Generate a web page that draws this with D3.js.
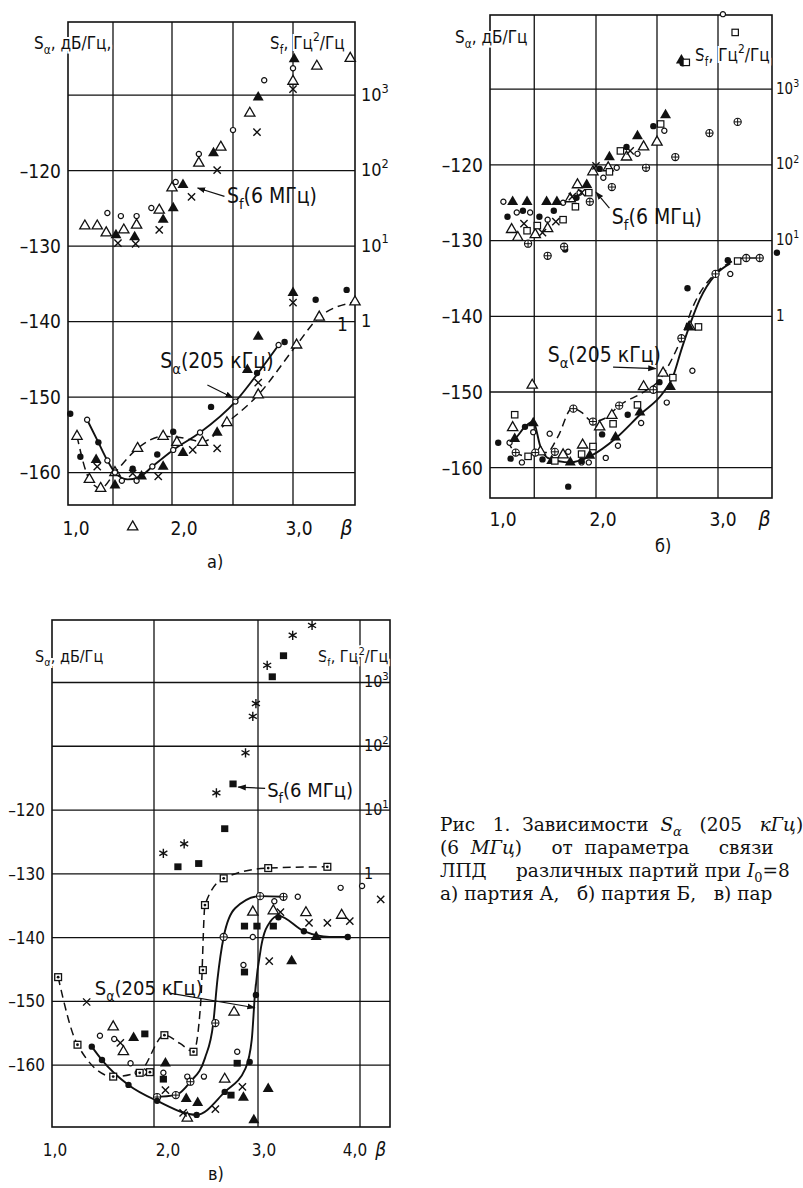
<!DOCTYPE html>
<html>
<head>
<meta charset="utf-8">
<script src="https://cdn.jsdelivr.net/npm/d3@7"></script>
<style>
	body { margin: 0; background: #fff; }
	svg { display: block; }
	.sans { font-family: "DejaVu Sans Condensed", "Liberation Sans Narrow", "DejaVu Sans", sans-serif; font-stretch: condensed; fill: #111; }
	.serif { font-family: "DejaVu Serif", "Liberation Serif", serif; fill: #111; white-space: pre; }
</style>
</head>
<body>
<svg id="fig" width="803" height="1188"></svg>
<script>
// ---- tick labels ----
const dbTicks = [-120, -130, -140, -150, -160]
const sfTicks = [1, 10, 100, 1000]
const betaTicksAB = [1, 2, 3]
const betaTicksC = [1, 2, 3, 4]

// ---- panel a: Sf (beta, Гц²/Гц) ----
const aSfTriOpen = [[1.15,18.5],[1.26,18.5],[1.34,15],[1.51,16.4],[1.64,19],[1.87,30],[2.0,59],[2.22,126],[2.40,205],[2.64,577],[3.0,1530],[3.20,2420],[3.48,3080]]
const aSfCircOpen = [[1.35,27.5],[1.48,25],[1.64,25],[1.79,32],[2.03,71],[2.22,166],[2.5,345],[2.76,1580],[3.0,2280]]
const aSfTriFilled = [[1.43,14],[1.62,13.2],[1.91,22.4],[2.01,32],[2.09,65],[2.34,171],[2.71,940],[3.01,3000]]
const aSfCross = [[1.45,11],[1.63,10.7],[1.87,16.4],[2.16,45],[2.37,102],[2.70,324],[3.0,1200]]
// ---- panel a: Sα (beta, дБ/Гц) ----
const aSaCircFilled = [[1.02,-152.2],[1.11,-157.9],[1.27,-156.0],[1.60,-159.5],[1.85,-157.6],[2.01,-154.6],[2.32,-151.3],[2.70,-146.8],[2.93,-142.7],[3.19,-137.1],[3.45,-135.8]]
const aSaCircOpen = [[1.17,-153.0],[1.35,-158.4],[1.42,-160.0],[1.49,-161.1],[1.64,-161.1],[1.80,-159.2],[2.01,-157.0],[2.23,-154.7],[2.52,-150.6],[2.88,-143.1]]
const aSaTriOpen = [[1.08,-155.2],[1.19,-160.9],[1.29,-162.1],[1.42,-160.0],[1.65,-156.8],[1.91,-155.2],[2.04,-156.0],[2.25,-156.0],[2.45,-153.4],[2.71,-149.7],[3.03,-143.1],[3.22,-139.4],[3.52,-137.4],[1.60,-167.2]]
const aSaTriFilled = [[1.25,-158.3],[1.42,-161.7],[1.69,-160.5],[1.91,-159.2],[2.09,-157.4],[2.37,-154.7],[2.62,-146.4],[2.71,-142.0],[3.0,-136.2]]
const aSaCross = [[1.26,-159.2],[1.60,-160.1],[1.86,-160.5],[2.17,-157.0],[2.37,-156.8],[2.71,-148.1],[3.0,-137.5]]
const aSolid = [[1.17,-153.0],[1.27,-156.0],[1.35,-158.4],[1.42,-160.0],[1.55,-160.9],[1.68,-160.5],[1.80,-159.2],[2.01,-157.0],[2.23,-154.7],[2.52,-150.6],[2.70,-147.0],[2.88,-143.1]]
const aDashed = [[1.08,-155.2],[1.19,-160.9],[1.29,-162.1],[1.42,-160.0],[1.65,-156.8],[1.91,-155.2],[2.08,-155.4],[2.25,-155.9],[2.45,-153.4],[2.71,-149.7],[3.03,-143.1],[3.22,-139.4],[3.52,-137.4]]

// ---- panel б: Sf ----
const bSfCircOpen = [[1.10,32.6],[1.23,23.5],[1.36,23.5],[1.53,18.9],[1.68,31.6],[1.84,43],[2.06,67.6],[2.17,91.6],[2.34,140],[2.56,282],[3.04,9800]]
const bSfCircFilled = [[1.14,20.7],[1.29,24.8],[1.45,20.7],[1.59,24.8],[1.81,36.8],[2.03,88.5],[2.25,173],[2.47,325],[2.71,2200],[1.70,7.6]]
const bSfTriOpen = [[1.18,14],[1.24,11],[1.41,12],[1.53,14.4],[1.75,35.7],[1.82,54.6],[1.97,81],[2.10,91.6],[2.25,127],[2.39,173],[2.5,200]]
const bSfTriFilled = [[1.19,32.6],[1.33,32.6],[1.52,32.6],[1.62,32.6],[1.91,54.6],[2.11,127],[2.34,241],[2.57,455],[2.70,2410]]
const bSfCross = [[1.30,16.7],[1.48,12.7],[1.61,17.8],[1.77,38],[1.86,43],[2.0,97],[2.28,153]]
const bSfSquare = [[1.33,13.5],[1.43,15.8],[1.68,18.9],[1.80,28],[1.93,43],[2.11,81],[2.20,153],[2.53,347],[2.74,2260],[3.14,5620]]
const bSfCircPlus = [[1.34,9.1],[1.53,6.3],[1.69,8.3],[1.94,32.6],[2.13,51],[2.41,91.6],[2.65,127],[2.93,263],[3.16,370]]
// ---- panel б: Sα ----
const bSaCircFilled = [[1.05,-156.7],[1.17,-158.8],[1.31,-154.6],[1.48,-158.9],[1.73,-162.5],[1.86,-159.1],[2.05,-155.6],[2.26,-153.0],[2.52,-148.7],[2.75,-136.3],[3.08,-132.6],[3.48,-131.6]]
const bSaCircOpen = [[1.16,-156.7],[1.28,-159.3],[1.39,-155.3],[1.55,-155.5],[1.73,-157.9],[1.86,-159.3],[1.93,-159.3],[2.08,-158.7],[2.18,-157.1],[2.37,-154.1],[2.58,-151.4],[2.79,-147.2],[2.98,-134.3],[3.10,-134.4]]
const bSaTriOpen = [[1.19,-154.7],[1.38,-149.1],[1.46,-157.9],[1.68,-158.3],[1.87,-157.0],[2.03,-154.6],[2.13,-153.1],[2.39,-149.3],[2.55,-147.5],[2.77,-141.4]]
const bSaTriFilled = [[1.21,-156.2],[1.39,-154.1],[1.57,-159.1],[1.75,-159.3],[1.94,-158.4],[2.16,-156.0],[2.36,-152.7],[2.61,-149.3],[2.76,-141.4]]
const bSaSquare = [[1.21,-153.0],[1.34,-158.5],[1.60,-159.1],[1.86,-158.2],[1.97,-157.2],[2.14,-154.2],[2.34,-151.7],[2.63,-148.1],[2.84,-141.4],[3.16,-132.7]]
const bSaCircPlus = [[1.22,-158.0],[1.41,-158.0],[1.60,-157.9],[1.78,-152.2],[1.97,-153.9],[2.19,-151.8],[2.47,-149.7],[2.70,-142.9],[2.98,-134.4],[3.23,-132.3],[3.34,-132.3]]
const bSolid = [[1.14,-156.7],[1.21,-156.2],[1.31,-154.6],[1.39,-153.9],[1.46,-157.2],[1.53,-158.7],[1.75,-159.3],[1.94,-158.5],[2.17,-156.0],[2.36,-153.0],[2.55,-150.1],[2.63,-148.0],[2.70,-144.4],[2.77,-141.1],[2.85,-137.8],[2.98,-134.5],[3.10,-133.0]]
const bDashed = [[1.14,-156.5],[1.22,-158.0],[1.34,-158.5],[1.41,-158.0],[1.52,-158.0],[1.63,-155.9],[1.77,-152.1],[1.86,-152.7],[1.97,-153.9],[2.07,-153.5],[2.19,-151.8],[2.39,-150.0],[2.52,-148.4],[2.63,-145.4],[2.70,-142.9],[2.79,-138.9],[2.98,-134.3],[3.11,-132.8],[3.23,-132.3],[3.34,-132.3]]

// ---- panel в: Sf ----
const cSfAsterisk = [[2.09,2.1],[2.29,2.95],[2.60,18.6],[2.88,79],[2.95,295],[2.98,468],[3.09,1860],[3.34,5500],[3.53,7850]]
const cSfSquareFilled = [[2.23,1.29],[2.43,1.45],[2.68,5.1],[2.76,25.7],[3.14,1230],[3.25,2630]]
// ---- panel в: Sα ----
const cSaCircOpen = [[1.47,-155.4],[1.61,-155.9],[1.77,-159.7],[1.84,-161.2],[2.09,-161.2],[2.32,-161.8],[2.48,-161.8],[2.80,-157.9],[2.86,-144.3],[2.95,-139.9],[3.16,-134.3],[3.39,-133.6],[3.81,-132.2],[4.02,-131.9]]
const cSaTriOpen = [[1.60,-154.0],[1.70,-157.9],[2.32,-168.3],[2.68,-162.2],[2.77,-151.7],[2.95,-136.0],[3.15,-135.8],[3.47,-136.1],[3.82,-136.5]]
const cSaTriFilled = [[1.80,-155.7],[2.11,-159.7],[2.31,-165.3],[2.42,-165.9],[2.86,-165.1],[2.96,-168.6],[3.10,-163.7],[3.33,-143.7],[3.57,-139.9]]
const cSaSquareFilled = [[1.91,-155.1],[2.09,-162.2],[2.87,-138.2],[2.99,-138.2],[3.15,-138.2],[2.87,-145.4],[2.80,-159.7],[2.74,-164.7]]
const cSaCross = [[1.34,-150.1],[1.67,-156.5],[1.94,-161.1],[2.11,-163.9],[2.28,-167.5],[2.59,-166.9],[2.85,-163.4],[3.11,-143.7],[3.22,-136.0],[3.50,-137.7],[3.68,-137.7],[3.90,-137.4],[4.20,-134.0]]
const cSaSquareDot = [[1.06,-146.2],[1.25,-156.8],[1.60,-161.8],[1.86,-161.2],[1.96,-161.1],[2.10,-155.3],[2.38,-157.9],[2.47,-145.1],[2.49,-134.9],[2.67,-130.7],[3.10,-129.1],[3.68,-128.9]]
const cSaCircPlus = [[2.03,-165.0],[2.21,-164.7],[2.35,-162.6],[2.59,-153.4],[2.67,-139.9],[3.02,-133.5],[3.25,-133.6]]
const cSaCircFilled = [[1.39,-157.1],[1.49,-159.2],[1.75,-163.1],[2.03,-165.6],[2.41,-167.8],[2.68,-164.2],[2.92,-159.5],[2.98,-149.0],[3.20,-136.8],[3.45,-139.0],[3.88,-139.9]]
const cDashed = [[1.06,-146.2],[1.25,-156.8],[1.60,-161.8],[1.86,-161.0],[2.10,-155.3],[2.25,-156.6],[2.38,-157.9],[2.45,-150.0],[2.49,-134.9],[2.67,-130.7],[3.10,-129.1],[3.68,-128.9]]
const cSolidA = [[2.0,-165.0],[2.21,-164.7],[2.35,-162.6],[2.49,-158.9],[2.57,-153.4],[2.61,-146.6],[2.67,-139.9],[2.78,-135.4],[3.02,-133.5],[3.25,-133.6]]
const cSolidB = [[1.39,-157.1],[1.49,-159.2],[1.75,-163.1],[2.03,-165.6],[2.41,-167.8],[2.68,-164.2],[2.88,-160.5],[2.94,-156.0],[2.97,-149.0],[3.03,-141.5],[3.12,-137.5],[3.20,-136.6],[3.45,-139.0],[3.70,-139.9],[3.88,-139.9]]

const ink = "#111"
const svg = d3.select("#fig")

svg.append("defs").append("marker")
	.attr("id", "arrow")
	.attr("viewBox", "0 0 10 10")
	.attr("refX", 9).attr("refY", 5)
	.attr("markerWidth", 7).attr("markerHeight", 7)
	.attr("orient", "auto")
	.append("path")
	.attr("d", "M0,1.5 L10,5 L0,8.5 z")
	.attr("fill", ink)

// text with sub/sup/italic parts: [string, flags]
function rich(g, x, y, parts, size, cls, anchor) {
	const t = g.append("text")
		.attr("class", cls || "sans")
		.attr("x", x).attr("y", y)
		.attr("font-size", size)
		.attr("text-anchor", anchor || "start")
	let shift = 0
	parts.forEach(([s, m]) => {
		m = m || ""
		const small = m.includes("sub") || m.includes("sup")
		const target = m.includes("sub") ? size * 0.28 : m.includes("sup") ? -size * 0.45 : 0
		t.append("tspan")
			.attr("dy", target - shift)
			.attr("font-size", small ? size * 0.7 : size)
			.attr("font-style", m.includes("it") ? "italic" : null)
			.text(s)
		shift = target
	})
	return t
}

function drawMarkers(layer, pts, kind, xs, ys) {
	const g = layer.append("g").attr("class", kind)
		.selectAll("g").data(pts).join("g")
		.attr("transform", d => `translate(${xs(d[0])},${ys(d[1])})`)
	if (kind === "circOpen") {
		g.append("circle").attr("r", 2.6).attr("fill", "#fff").attr("stroke", ink).attr("stroke-width", 1.2)
	} else if (kind === "circFilled") {
		g.append("circle").attr("r", 3.2).attr("fill", ink)
	} else if (kind === "triOpen") {
		g.append("path").attr("d", d3.symbol(d3.symbolTriangle, 46)).attr("fill", "#fff").attr("stroke", ink).attr("stroke-width", 1.3)
	} else if (kind === "triFilled") {
		g.append("path").attr("d", d3.symbol(d3.symbolTriangle, 52)).attr("fill", ink)
	} else if (kind === "cross") {
		g.append("path").attr("d", d3.symbol(d3.symbolTimes, 36)).attr("fill", "none").attr("stroke", ink).attr("stroke-width", 1.4)
	} else if (kind === "square") {
		g.append("rect").attr("x", -3.2).attr("y", -3.2).attr("width", 6.4).attr("height", 6.4)
			.attr("fill", "#fff").attr("stroke", ink).attr("stroke-width", 1.2)
	} else if (kind === "squareFilled") {
		g.append("rect").attr("x", -3.6).attr("y", -3.4).attr("width", 7.2).attr("height", 6.8).attr("fill", ink)
	} else if (kind === "squareDot") {
		g.append("rect").attr("x", -3.4).attr("y", -3.4).attr("width", 6.8).attr("height", 6.8)
			.attr("fill", "#fff").attr("stroke", ink).attr("stroke-width", 1.3)
		g.append("circle").attr("r", 1.4).attr("fill", ink)
	} else if (kind === "circPlus") {
		g.append("circle").attr("r", 3.6).attr("fill", "#fff").attr("stroke", ink).attr("stroke-width", 1.1)
		g.append("path").attr("d", "M-3.6,0H3.6M0,-3.6V3.6").attr("stroke", ink).attr("stroke-width", 1)
	} else if (kind === "asterisk") {
		g.append("path").attr("d", d3.symbol(d3.symbolAsterisk, 60)).attr("fill", "none").attr("stroke", ink).attr("stroke-width", 1.4)
	}
}

function drawPanel(p) {
	const g = svg.append("g")
	const x = d3.scaleLinear().domain(p.xDom).range(p.xRange)
	const y = d3.scaleLinear().domain(p.yDom).range([p.bottom, p.top])
	const sf = d3.scaleLog().domain([1, 1000]).range([y(p.sfOne), y(p.sfOne + 30)])
	const left = p.xRange[0], right = p.xRange[p.xRange.length - 1]

	// grid
	g.append("g").selectAll("line").data(p.hGrid).join("line")
		.attr("x1", left).attr("x2", right)
		.attr("y1", d => y(d)).attr("y2", d => y(d))
		.attr("stroke", ink).attr("stroke-width", 1.3)
	g.append("g").selectAll("line").data(p.vGrid).join("line")
		.attr("x1", d => x(d)).attr("x2", d => x(d))
		.attr("y1", p.top).attr("y2", p.bottom)
		.attr("stroke", ink).attr("stroke-width", 1.3)
	g.append("rect")
		.attr("x", left).attr("y", p.top)
		.attr("width", right - left).attr("height", p.bottom - p.top)
		.attr("fill", "none").attr("stroke", ink).attr("stroke-width", 1.6)

	// left dB labels
	dbTicks.forEach(v => rich(g, left - 7, y(v) + p.tickSize * 0.36, [[String(v).replace("-", "–")]], p.tickSize, "sans", "end"))
	// right Sf labels
	sfTicks.forEach(v => {
		const parts = v === 1 ? [["1"]] : [["10"], [String(Math.round(Math.log10(v))), "sup"]]
		rich(g, p.sfLabelX, sf(v) + p.sfSize * 0.3, parts, p.sfSize)
	})
	// bottom beta labels
	p.betaTicks.forEach((v, i) => rich(g, x(v) + p.betaDx[i], p.bottom + p.betaDy, [[v.toFixed(1).replace(".", ",")]], p.tickSize, "sans", "middle"))
	rich(g, x(p.betaAt), p.bottom + p.betaDy, [["β", "it"]], p.tickSize + 2, "sans", "middle")

	// curves
	const line = d3.line().x(d => x(d[0])).y(d => y(d[1])).curve(d3.curveMonotoneX)
	p.curves.forEach(c => g.append("path")
		.attr("d", line(c.pts))
		.attr("fill", "none").attr("stroke", ink)
		.attr("stroke-width", c.dashed ? 1.5 : 1.9)
		.attr("stroke-dasharray", c.dashed ? "8,5" : null))

	// markers
	const layer = g.append("g")
	p.series.forEach(s => drawMarkers(layer, s.pts, s.kind, x, s.sf ? (v => sf(v)) : y))

	// annotations (positions in data units)
	p.notes.forEach(n => {
		if (n.text) rich(g, x(n.at[0]), y(n.at[1]), n.text, n.size)
		if (n.from) g.append("line")
			.attr("x1", x(n.from[0])).attr("y1", y(n.from[1]))
			.attr("x2", x(n.to[0])).attr("y2", y(n.to[1]))
			.attr("stroke", ink).attr("stroke-width", 1.2)
			.attr("marker-end", "url(#arrow)")
	})

	// axis titles and panel letter
	rich(g, p.saTitle[0], p.saTitle[1], [["S"], ["α", "sub"], [", дБ/Гц" + (p.comma ? "," : "")]], p.titleSize)
		.attr("stroke", "#fff").attr("stroke-width", 4).attr("paint-order", "stroke")
	rich(g, p.sfTitle[0], p.sfTitle[1], [["S"], ["f", "sub"], [", Гц"], ["2", "sup"], ["/Гц"]], p.titleSize)
		.attr("stroke", "#fff").attr("stroke-width", 4).attr("paint-order", "stroke")
	rich(g, p.letter[0], p.letter[1], [[p.letter[2]]], 18)
}

const saNote = [["S"], ["α", "sub"], ["(205 кГц)"]]
const sfNote = [["S"], ["f", "sub"], ["(6 МГц)"]]

drawPanel({
	xDom: [1.0, 1.4, 2.0, 2.5, 3.0, 3.52], xRange: [68, 113, 172, 233, 293, 355],
	yDom: [-164.3, -100.3], top: 22, bottom: 505, sfOne: -140,
	hGrid: [-110, -120, -130, -140, -150, -160], vGrid: [1.4, 2.0, 2.5, 3.0],
	betaTicks: betaTicksAB, betaDx: [8, 12, 6], betaAt: 3.45, betaDy: 30, tickSize: 19, sfLabelX: 361, sfSize: 18,
	saTitle: [34, 49], sfTitle: [270, 49], titleSize: 17, comma: true, letter: [207, 568, "а)"],
	curves: [{ pts: aSolid }, { pts: aDashed, dashed: true }],
	series: [
		{ pts: aSfTriOpen, kind: "triOpen", sf: true }, { pts: aSfCircOpen, kind: "circOpen", sf: true },
		{ pts: aSfTriFilled, kind: "triFilled", sf: true }, { pts: aSfCross, kind: "cross", sf: true },
		{ pts: aSaTriOpen, kind: "triOpen" }, { pts: aSaCircOpen, kind: "circOpen" },
		{ pts: aSaCircFilled, kind: "circFilled" }, { pts: aSaTriFilled, kind: "triFilled" },
		{ pts: aSaCross, kind: "cross" }
	],
	notes: [
		{ at: [1.88, -146.1], text: saNote, size: 21 },
		{ from: [2.29, -148.4], to: [2.5, -150.1] },
		{ at: [2.45, -124.3], text: sfNote, size: 21 },
		{ from: [2.43, -123.4], to: [2.21, -122.3] },
		{ at: [3.37, -141.2], text: [["1"]], size: 19 }
	]
})

drawPanel({
	xDom: [0.97, 2.0, 3.0, 3.44], xRange: [490, 596, 718, 772],
	yDom: [-164.0, -100.2], top: 15, bottom: 498, sfOne: -140,
	hGrid: [-110, -120, -130, -140, -150, -160], vGrid: [1.4, 2.0, 2.5, 3.0],
	betaTicks: betaTicksAB, betaDx: [10, 7, 5], betaAt: 3.38, betaDy: 28, tickSize: 19, sfLabelX: 776, sfSize: 15,
	saTitle: [455, 43], sfTitle: [695, 61], titleSize: 17, comma: false, letter: [655, 552, "б)"],
	curves: [{ pts: bSolid }, { pts: bDashed, dashed: true }],
	series: [
		{ pts: bSfCircOpen, kind: "circOpen", sf: true }, { pts: bSfCircFilled, kind: "circFilled", sf: true },
		{ pts: bSfTriOpen, kind: "triOpen", sf: true }, { pts: bSfTriFilled, kind: "triFilled", sf: true },
		{ pts: bSfCross, kind: "cross", sf: true }, { pts: bSfSquare, kind: "square", sf: true },
		{ pts: bSfCircPlus, kind: "circPlus", sf: true },
		{ pts: bSaCircOpen, kind: "circOpen" }, { pts: bSaCircFilled, kind: "circFilled" },
		{ pts: bSaTriOpen, kind: "triOpen" }, { pts: bSaTriFilled, kind: "triFilled" },
		{ pts: bSaSquare, kind: "square" }, { pts: bSaCircPlus, kind: "circPlus" }
	],
	notes: [
		{ at: [1.53, -146.0], text: saNote, size: 21 },
		{ from: [2.14, -146.7], to: [2.49, -146.9] },
		{ at: [2.13, -127.8], text: sfNote, size: 21 },
		{ from: [2.11, -125.7], to: [2.0, -123.6] }
	]
})

drawPanel({
	xDom: [1.0, 2.0, 3.0, 4.0, 4.29], xRange: [52, 154, 258, 360, 390],
	yDom: [-169.7, -90.2], top: 620, bottom: 1127, sfOne: -130,
	hGrid: [-100, -110, -120, -130, -140, -150, -160], vGrid: [2.0, 3.0, 4.0],
	betaTicks: betaTicksC, betaDx: [3, 14, 6, -5], betaAt: 4.2, betaDy: 29, tickSize: 17, sfLabelX: 364, sfSize: 16,
	saTitle: [35, 662], sfTitle: [318, 662], titleSize: 16, comma: false, letter: [208, 1180, "в)"],
	curves: [{ pts: cSolidA }, { pts: cSolidB }, { pts: cDashed, dashed: true }],
	series: [
		{ pts: cSfAsterisk, kind: "asterisk", sf: true }, { pts: cSfSquareFilled, kind: "squareFilled", sf: true },
		{ pts: cSaCircOpen, kind: "circOpen" }, { pts: cSaTriOpen, kind: "triOpen" },
		{ pts: cSaTriFilled, kind: "triFilled" }, { pts: cSaSquareFilled, kind: "squareFilled" },
		{ pts: cSaCross, kind: "cross" }, { pts: cSaSquareDot, kind: "squareDot" },
		{ pts: cSaCircPlus, kind: "circPlus" }, { pts: cSaCircFilled, kind: "circFilled" }
	],
	notes: [
		{ at: [1.42, -149.0], text: saNote, size: 20 },
		{ from: [2.15, -148.7], to: [2.97, -151.0] },
		{ at: [3.09, -118.0], text: sfNote, size: 20 },
		{ from: [3.07, -116.6], to: [2.81, -116.4] }
	]
})

// caption: only the part that the scan shows (it is cut by the page edge)
const cap = svg.append("g")
const capX = 440, capY = 831, capStep = 23, capSize = 18.5
rich(cap, capX, capY, [["Рис   1.  Зависимости  "], ["S", "it"], ["α", "sub it"], ["   (205   "], ["кГц", "it"], [")"]], capSize, "serif")
rich(cap, capX, capY + capStep, [["(6  "], ["МГц", "it"], [")     от  параметра     связи"]], capSize, "serif")
rich(cap, capX, capY + 2 * capStep, [["ЛПД     различных партий при "], ["I", "it"], ["0", "sub"], ["=8"]], capSize, "serif")
rich(cap, capX, capY + 3 * capStep, [["а) партия А,   б) партия Б,   в) пар"]], capSize, "serif")
</script>
</body>
</html>
